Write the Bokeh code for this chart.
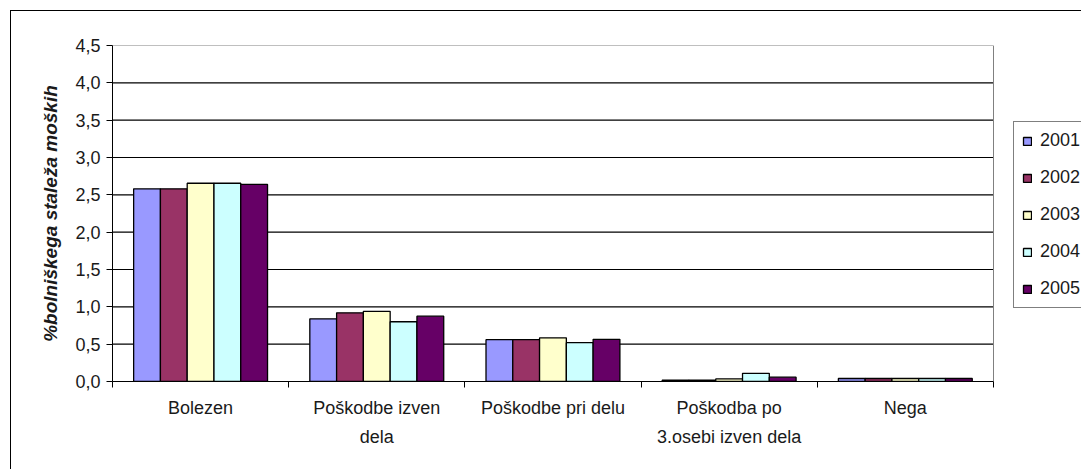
from bokeh.plotting import figure
from bokeh.models import ColumnDataSource, FixedTicker, Range1d, Legend, LegendItem
from bokeh.embed import file_html
from bokeh.resources import INLINE

# ---- data ----
categories = ["Bolezen", "Poškodbe izven dela", "Poškodbe pri delu",
              "Poškodba po 3.osebi izven dela", "Nega"]
category_labels = ["Bolezen", "Poškodbe izven\ndela", "Poškodbe pri delu",
                   "Poškodba po\n3.osebi izven dela", "Nega"]
years = ["2001", "2002", "2003", "2004", "2005"]
v2001 = [2.58, 0.84, 0.56, 0.018, 0.04]
v2002 = [2.58, 0.92, 0.56, 0.018, 0.04]
v2003 = [2.655, 0.94, 0.585, 0.035, 0.04]
v2004 = [2.655, 0.80, 0.52, 0.11, 0.04]
v2005 = [2.64, 0.875, 0.565, 0.058, 0.04]
series = [v2001, v2002, v2003, v2004, v2005]
colors = ["#9999FF", "#993366", "#FFFFCC", "#CCFFFF", "#660066"]
y_ticks = [0.0, 0.5, 1.0, 1.5, 2.0, 2.5, 3.0, 3.5, 4.0, 4.5]
y_tick_labels = ["0,0", "0,5", "1,0", "1,5", "2,0", "2,5", "3,0", "3,5", "4,0", "4,5"]
y_title = "%bolniškega staleža moških"

FONT = "Liberation Sans"
FS = "18px"
TXT = "#1a1a1a"

n = len(categories)
# frame runs to the right canvas edge so the (cropped) legend can sit there
p = figure(width=1081, height=469, output_backend="svg", toolbar_location=None,
           x_range=Range1d(0, n * 1.1), y_range=Range1d(0, y_ticks[-1]),
           min_border_left=112, min_border_right=0, min_border_top=45,
           min_border_bottom=88)
p.outline_line_color = None
p.background_fill_color = "white"
p.border_fill_alpha = 0
# outer chart-area border (top/left visible, rest cut off by the crop)
p.styles = {
    "background-color": "white",
    "background-image": "linear-gradient(#000,#000), linear-gradient(#000,#000)",
    "background-size": "1px 100%, 100% 1px",
    "background-position": "10px 10px, 10px 10px",
    "background-repeat": "no-repeat",
}

# horizontal gridlines only across the category area; grey top edge
inner = y_ticks[1:-1]
p.segment(x0=[0] * len(inner), x1=[n] * len(inner), y0=inner, y1=inner,
          line_color="black", line_width=1.2, level="underlay")
p.segment(x0=[0], x1=[n], y0=y_ticks[-1:], y1=y_ticks[-1:],
          line_color="#808080", line_width=1, level="underlay")

bar_w = 0.152
items = []
for j, (yr, vals, col) in enumerate(zip(years, series, colors)):
    xs = [i + 0.5 + (j - 2) * bar_w for i in range(n)]
    src = ColumnDataSource(dict(x=xs, top=vals, cat=categories))
    r = p.vbar(x="x", top="top", width=bar_w, bottom=0, source=src,
               fill_color=col, line_color="black", line_width=1.3)
    items.append(LegendItem(label=yr, renderers=[r]))

# y axis
p.yaxis.ticker = FixedTicker(ticks=y_ticks)
p.yaxis.major_label_overrides = {t: l for t, l in zip(y_ticks, y_tick_labels)}
p.yaxis.major_tick_out = 6
p.yaxis.major_tick_in = 0
p.yaxis.minor_tick_out = 0
p.yaxis.minor_tick_in = 0
p.yaxis.axis_line_color = "black"
p.yaxis.major_tick_line_color = "black"
p.yaxis.major_label_text_font = FONT
p.yaxis.major_label_text_font_size = FS
p.yaxis.major_label_text_color = TXT
p.yaxis.major_label_standoff = 6
p.yaxis.axis_label = y_title
p.yaxis.axis_label_text_font = FONT
p.yaxis.axis_label_text_font_size = "19px"
p.yaxis.axis_label_text_font_style = "bold italic"
p.yaxis.axis_label_text_color = TXT
p.yaxis.axis_label_standoff = 11

# x axis
p.xaxis.bounds = (0, n)
p.xaxis.ticker = FixedTicker(ticks=[i + 0.5 for i in range(n)],
                             minor_ticks=list(range(n + 1)))
p.xaxis.major_label_overrides = {i + 0.5: lab for i, lab in enumerate(category_labels)}
p.xaxis.major_tick_out = 0
p.xaxis.major_tick_in = 0
p.xaxis.minor_tick_out = 6
p.xaxis.minor_tick_in = 0
p.xaxis.minor_tick_line_color = "black"
p.xaxis.axis_line_color = "black"
p.xaxis.major_label_text_font = FONT
p.xaxis.major_label_text_font_size = FS
p.xaxis.major_label_text_color = TXT
p.xaxis.major_label_text_line_height = 1.45
p.xaxis.major_label_standoff = 10

# grid: only the grey right edge of the plot area
p.xgrid.ticker = FixedTicker(ticks=[n])
p.xgrid.grid_line_color = "#808080"
p.ygrid.grid_line_color = None

# legend
legend = Legend(items=items, location=(901, 73),
                glyph_width=10, glyph_height=10, label_height=20, spacing=16,
                padding=8, margin=0, label_standoff=8,
                label_text_font=FONT, label_text_font_size=FS,
                label_text_color=TXT,
                border_line_color="black", border_line_width=1,
                background_fill_color="white", background_fill_alpha=1)
p.add_layout(legend, "center")

open("out.html", "w").write(file_html(p, INLINE))
